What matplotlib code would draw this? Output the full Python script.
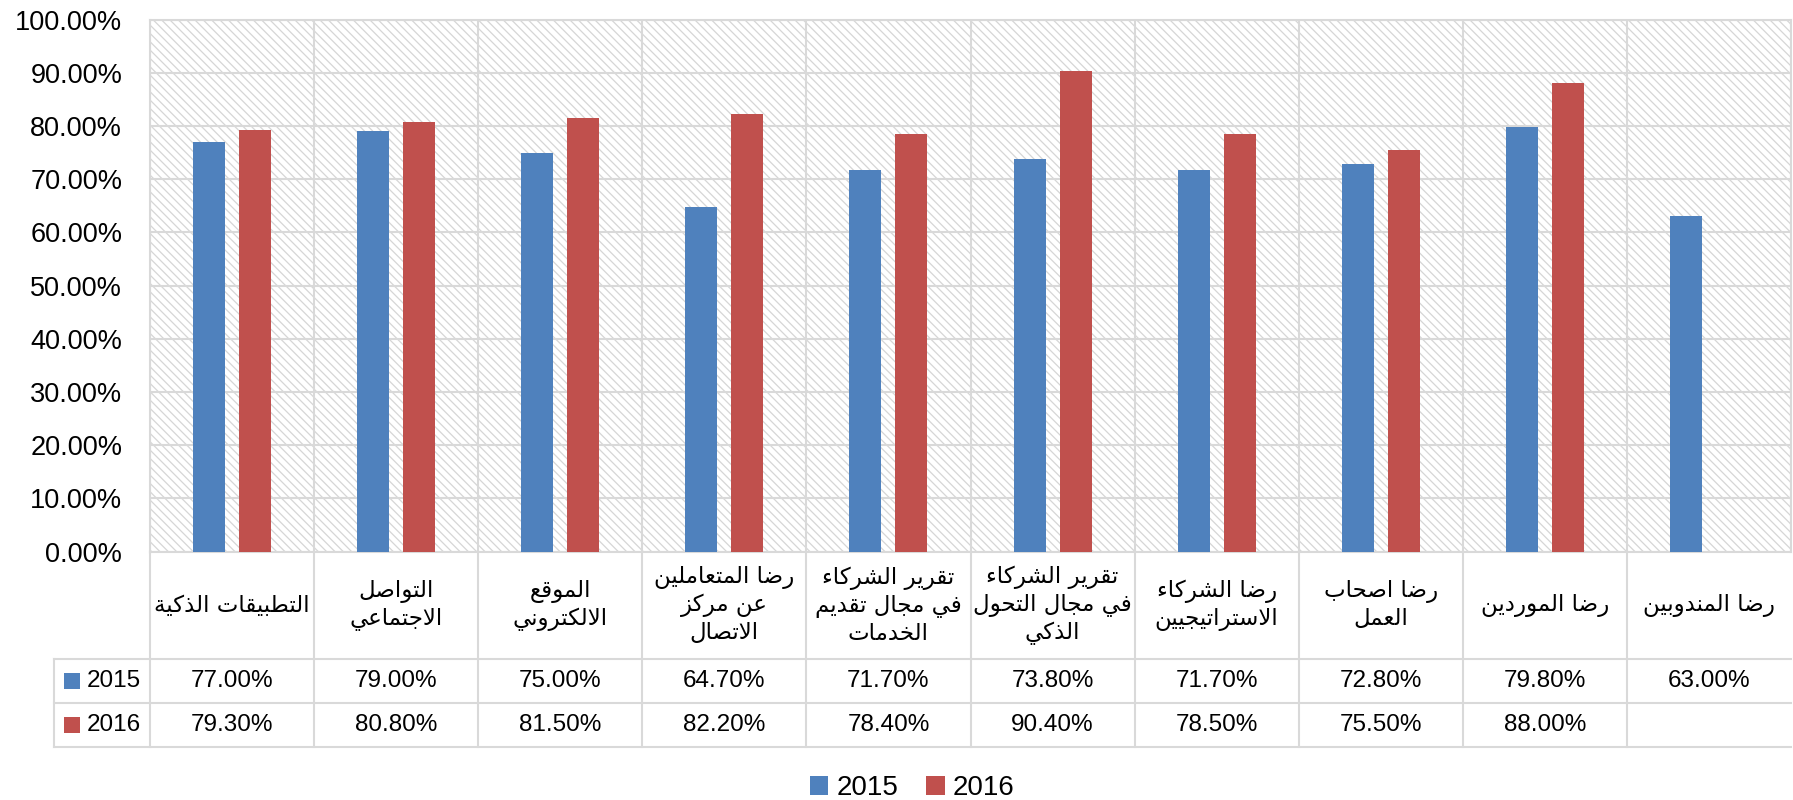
import matplotlib
matplotlib.use("Agg")
import matplotlib.pyplot as plt
from matplotlib.patches import Rectangle
import numpy as np

plt.rcParams["font.family"] = ["Liberation Sans", "DejaVu Sans"]
plt.rcParams["hatch.linewidth"] = 0.9

categories = [
    "التطبيقات الذكية",
    "التواصل\nالاجتماعي",
    "الموقع\nالالكتروني",
    "رضا المتعاملين\nعن مركز\nالاتصال",
    "تقرير الشركاء\nفي مجال تقديم\nالخدمات",
    "تقرير الشركاء\nفي مجال التحول\nالذكي",
    "رضا الشركاء\nالاستراتيجيين",
    "رضا اصحاب\nالعمل",
    "رضا الموردين",
    "رضا المندوبين",
]
values_2015 = [77.0, 79.0, 75.0, 64.7, 71.7, 73.8, 71.7, 72.8, 79.8, 63.0]
values_2016 = [79.3, 80.8, 81.5, 82.2, 78.4, 90.4, 78.5, 75.5, 88.0, None]
series_names = ["2015", "2016"]
series_colors = ["#4F81BD", "#C0504D"]
y_ticks = list(range(0, 101, 10))

GRID = "#d9d9d9"

# matplotlib has no Arabic shaping: map letters to presentation forms, then reverse
DUAL = {"ب": 0xFE8F, "ت": 0xFE95, "ث": 0xFE99, "ج": 0xFE9D, "ح": 0xFEA1, "خ": 0xFEA5,
        "س": 0xFEB1, "ش": 0xFEB5, "ص": 0xFEB9, "ض": 0xFEBD, "ط": 0xFEC1, "ظ": 0xFEC5,
        "ع": 0xFEC9, "غ": 0xFECD, "ف": 0xFED1, "ق": 0xFED5, "ك": 0xFED9, "ل": 0xFEDD,
        "م": 0xFEE1, "ن": 0xFEE5, "ه": 0xFEE9, "ي": 0xFEF1}
RIGHT = {"ا": 0xFE8D, "ة": 0xFE93, "د": 0xFEA9, "ذ": 0xFEAB, "ر": 0xFEAD, "ز": 0xFEAF,
         "و": 0xFEED, "ى": 0xFEEF, "LA": 0xFEFB}
ISOLATED = {"ء": 0xFE80}


def shape_line(line):
    tokens = []
    i = 0
    while i < len(line):
        if line[i] == "ل" and i + 1 < len(line) and line[i + 1] == "ا":
            tokens.append("LA")
            i += 2
        else:
            tokens.append(line[i])
            i += 1
    out = []
    for i, t in enumerate(tokens):
        prev = tokens[i - 1] if i > 0 else None
        nxt = tokens[i + 1] if i + 1 < len(tokens) else None
        joins_prev = prev in DUAL and (t in DUAL or t in RIGHT)
        joins_next = t in DUAL and (nxt in DUAL or nxt in RIGHT)
        if t in DUAL:
            if joins_prev and joins_next:
                k = 3
            elif joins_prev:
                k = 1
            elif joins_next:
                k = 2
            else:
                k = 0
            out.append(chr(DUAL[t] + k))
        elif t in RIGHT:
            out.append(chr(RIGHT[t] + (1 if joins_prev else 0)))
        elif t in ISOLATED:
            out.append(chr(ISOLATED[t]))
        else:
            out.append(t)
    return "".join(reversed(out))


def shape(text):
    return "\n".join(shape_line(l) for l in text.split("\n"))


W, H = 1793, 800
left_px, right_px, top_px, bottom_px = 150, 1791, 19.5, 551.7
fig = plt.figure(figsize=(W / 100, H / 100), dpi=100)
ax = fig.add_axes([left_px / W, (H - bottom_px) / H,
                   (right_px - left_px) / W, (bottom_px - top_px) / H])

# hatched plot background
ax.patch.set_visible(False)
ax.add_patch(Rectangle((0, 0), 1, 1, transform=ax.transAxes, facecolor="white",
                       edgecolor="#d6d6d6", hatch="\\\\\\\\", linewidth=0, zorder=0))

n = len(categories)
x = np.arange(n)
width = 0.195
offset = 0.14

for vals, name, color, sign in zip([values_2015, values_2016], series_names,
                                   series_colors, [-1, 1]):
    xs = [xi + sign * offset for xi, v in zip(x, vals) if v is not None]
    hs = [v for v in vals if v is not None]
    ax.bar(xs, hs, width=width, color=color, label=name, zorder=3)

ax.set_xlim(-0.5, n - 0.5)
ax.set_ylim(0, 100)
ax.set_yticks(y_ticks)
ax.set_yticklabels([f"{t:.2f}%" for t in y_ticks], fontsize=19.5)
ax.set_xticks([])
ax.set_xticks(np.arange(n + 1) - 0.5, minor=True)
ax.tick_params(axis="y", length=0, pad=20)
ax.tick_params(axis="x", which="both", length=0, labelbottom=False)
ax.grid(axis="y", color=GRID, linewidth=1.5, zorder=1)
ax.grid(axis="x", which="minor", color=GRID, linewidth=1.5, zorder=1)
for s in ax.spines.values():
    s.set_color(GRID)
    s.set_linewidth(1.5)
    s.set_zorder(2)


# data table under the plot, in pixel positions converted to axes fraction
def fx(p):
    return (p - left_px) / (right_px - left_px)


def fy(p):
    return (bottom_px - p) / (bottom_px - top_px)


row_edges = [551.7, 659, 703, 746.7]
table_left = 54
col_w = (right_px - left_px) / n
line_kw = dict(color=GRID, linewidth=1.5, transform=ax.transAxes, clip_on=False)

for yy in row_edges[1:]:
    ax.plot([fx(table_left), 1], [fy(yy)] * 2, **line_kw)
ax.plot([fx(table_left)] * 2, [fy(row_edges[1]), fy(row_edges[3])], **line_kw)
for k in range(n):
    xx = left_px + k * col_w
    ax.plot([fx(xx)] * 2, [fy(row_edges[0]), fy(row_edges[3])], **line_kw)

for k, label in enumerate(categories):
    cx = fx(left_px + (k + 0.5) * col_w)
    ax.text(cx, fy((row_edges[0] + row_edges[1]) / 2), shape(label),
            transform=ax.transAxes, ha="center", va="center", multialignment="center",
            fontsize=16.5, family="DejaVu Sans", linespacing=1.22)

for r, (vals, name, color) in enumerate(zip([values_2015, values_2016], series_names,
                                            series_colors)):
    cy = (row_edges[r + 1] + row_edges[r + 2]) / 2
    ax.add_patch(Rectangle((fx(64), fy(cy + 8)), fx(80) - fx(64), fy(cy - 8) - fy(cy + 8),
                           transform=ax.transAxes, facecolor=color, edgecolor="none",
                           clip_on=False))
    ax.text(fx(87), fy(cy), name, transform=ax.transAxes, ha="left", va="center",
            fontsize=17.5)
    for k, v in enumerate(vals):
        if v is None:
            continue
        cx = fx(left_px + (k + 0.5) * col_w)
        ax.text(cx, fy(cy), f"{v:.2f}%", transform=ax.transAxes, ha="center",
                va="center", fontsize=17.5)

fig.legend(loc="center", bbox_to_anchor=(912.5 / W, (H - 788) / H), ncol=2,
           frameon=False, fontsize=20, handlelength=0.65, handleheight=0.65,
           handletextpad=0.3, columnspacing=1.0, borderpad=0)

fig.savefig("out.png", dpi=100)
